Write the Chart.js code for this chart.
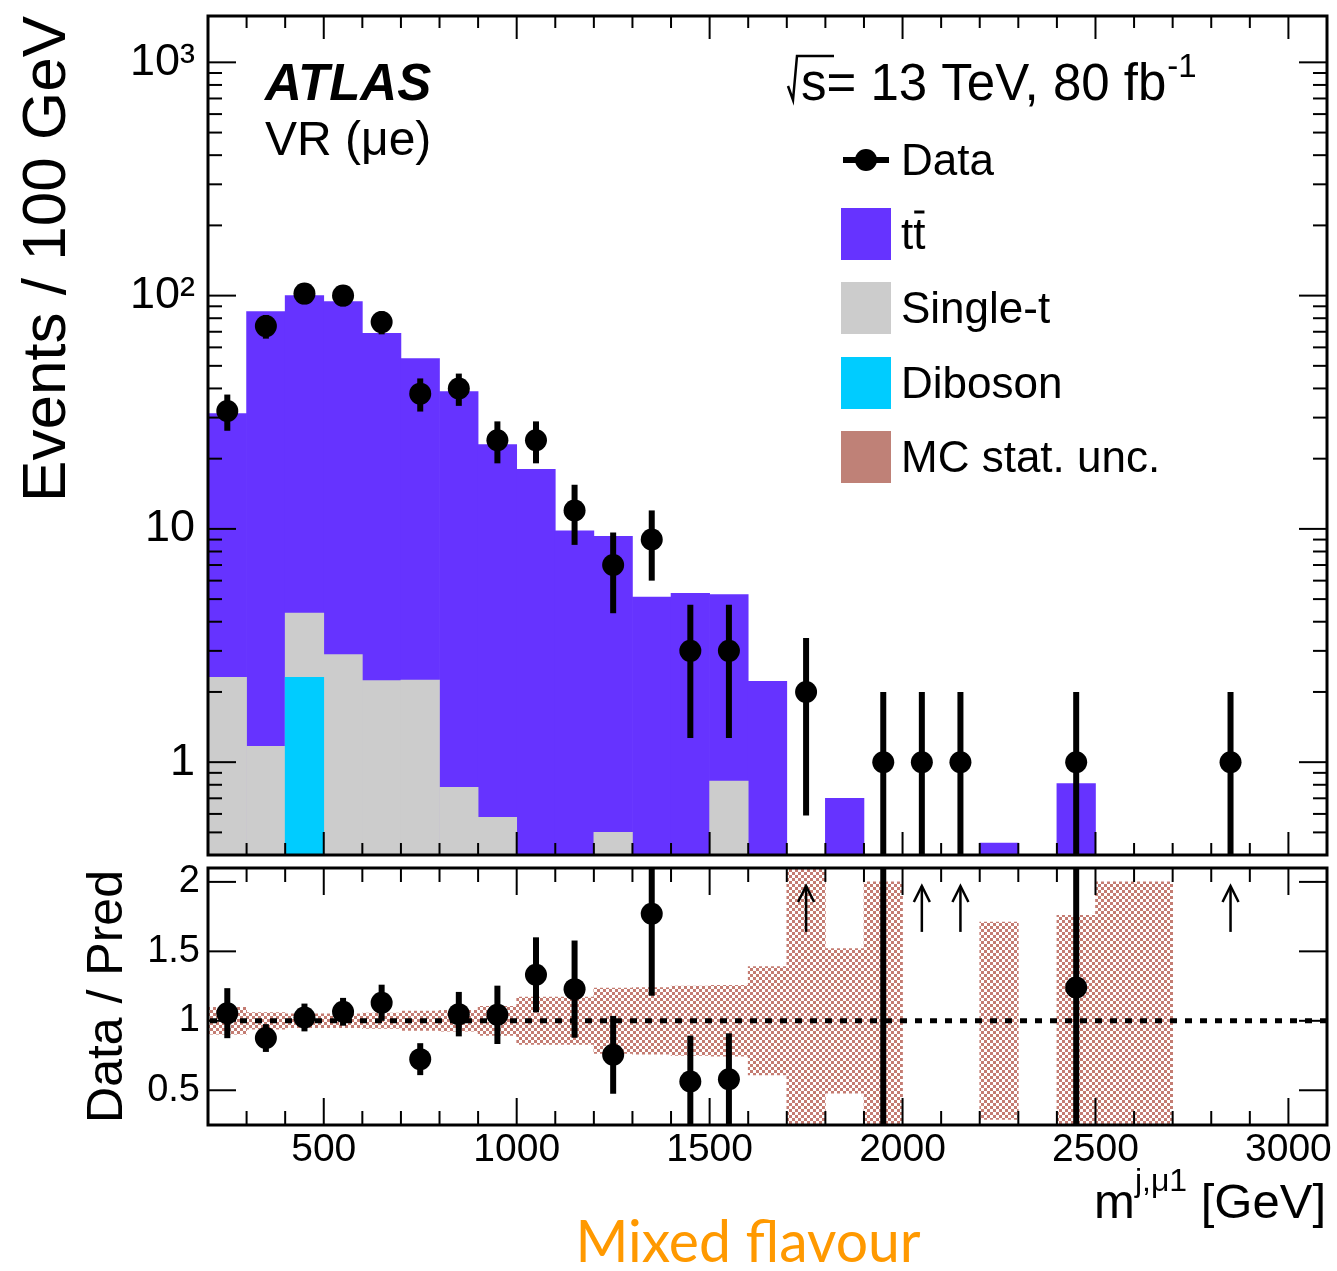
<!DOCTYPE html>
<html>
<head>
<meta charset="utf-8">
<script src="https://cdn.jsdelivr.net/npm/chart.js@4.4.1/dist/chart.umd.min.js"></script>
<style>
  html, body { margin: 0; padding: 0; background: #fff; }
  #wrap { position: relative; width: 1337px; height: 1271px; }
  .box { position: absolute; left: 0; width: 1337px; }
</style>
</head>
<body>
<div id="wrap">
  <div class="box" style="top:0;height:862px"><canvas id="mainPlot"></canvas></div>
  <div class="box" style="top:860px;height:411px"><canvas id="ratioPlot"></canvas></div>
</div>
<script>
// bin centres (100 GeV bins, 200 - 3100 GeV)
const binCenters = [250, 350, 450, 550, 650, 750, 850, 950, 1050, 1150, 1250, 1350, 1450, 1550, 1650,
                    1750, 1850, 1950, 2050, 2150, 2250, 2350, 2450, 2550, 2650, 2750, 2850, 2950, 3050];

// stacked backgrounds (events per bin)
const ttbar     = [28.9, 84.2, 95.6, 91.4, 66.7, 51.5, 38.0, 22.4, 18.0, 9.8, 8.8, 5.1, 5.3, 4.4, 2.22,
                   0, 0.7, 0, 0, 0, 0.45, 0, 0.81, 0, 0, 0, 0, 0, 0];
const singleTop = [2.31, 1.17, 2.05, 2.89, 2.24, 2.25, 0.78, 0.58, 0, 0, 0.5, 0, 0, 0.83, 0,
                   0, 0, 0, 0, 0, 0, 0, 0, 0, 0, 0, 0, 0, 0];
const diboson   = [0, 0, 2.31, 0, 0, 0, 0, 0, 0, 0, 0, 0, 0, 0, 0,
                   0, 0, 0, 0, 0, 0, 0, 0, 0, 0, 0, 0, 0, 0];

// observed data
const dataCounts = [32, 74, 102, 100, 77, 38, 40, 24, 24, 12, 7, 9, 3, 3, 0,
                    2, 0, 1, 1, 1, 0, 0, 1, 0, 0, 0, 1, 0, 0];
const dataErr    = [5.66, 8.6, 10.1, 10, 8.77, 6.16, 6.32, 4.9, 4.9, 3.46, 2.65, 3, 1.73, 1.73, 0,
                    1.41, 0, 1, 1, 1, 0, 0, 1, 0, 0, 0, 1, 0, 0];

// ratio panel
const ratio     = [1.055, 0.876, 1.024, 1.065, 1.13, 0.724, 1.048, 1.043, 1.331, 1.228, 0.755, 1.77, 0.563, 0.58, null,
                   null, null, 5, null, null, null, null, 1.24, null, null, null, null, null, null];
const ratioErr  = [0.18, 0.1, 0.1, 0.1, 0.13, 0.115, 0.16, 0.21, 0.27, 0.35, 0.28, 0.59, 0.33, 0.33, 0,
                   0, 0, 5, 0, 0, 0, 0, 1.23, 0, 0, 0, 0, 0, 0];
const mcStatErr = [0.097, 0.06, 0.05, 0.05, 0.055, 0.07, 0.075, 0.105, 0.17, 0.17, 0.235, 0.24, 0.25, 0.255, 0.39,
                   1.5, 0.52, 1.0, null, null, 0.71, null, 0.76, 1.0, 1.0, null, null, null, null];
const arrowBins = [1750, 2050, 2150, 2850];   // ratio above the plotted range

// axes
const xTickVals = [500, 1000, 1500, 2000, 2500, 3000];
const yTickVals = [1, 10, 100, 1000];
const yTickText = ['1', '10', '10\u00b2', '10\u00b3'];
const rTickVals = [0.5, 1, 1.5, 2];
const rTickText = ['0.5', '1', '1.5', '2'];

const SANS = '"Liberation Sans", Helvetica, Arial, sans-serif';
Chart.defaults.font.family = SANS;
Chart.defaults.color = '#000';

const cTT = '#6633ff';
const cST = '#cccccc';
const cVV = '#00ccff';
const cMC = '#bf8177';

function makeChecker() {
    const c = document.createElement('canvas');
    c.width = 6; c.height = 6;
    const g = c.getContext('2d');
    g.fillStyle = 'rgb(196,124,114)';
    g.fillRect(0, 0, 3, 3);
    g.fillRect(3, 3, 3, 3);
    return g.createPattern(c, 'repeat');
}

function line(ctx, x1, y1, x2, y2) {
    ctx.beginPath();
    ctx.moveTo(x1, y1);
    ctx.lineTo(x2, y2);
    ctx.stroke();
}

function clipArea(ctx, a) {
    ctx.beginPath();
    ctx.rect(a.left, a.top, a.right - a.left, a.bottom - a.top);
    ctx.clip();
}

// keep the plot frame where we put it, no label padding
function noPad(s) {
    s.paddingTop = 0; s.paddingBottom = 0;
    s.paddingLeft = 0; s.paddingRight = 0;
}

function xTicksAndFrame(chart, majLen, minLen) {
    const {ctx, chartArea: a, scales: {x}} = chart;
    ctx.strokeStyle = '#000';
    ctx.lineWidth = 2;
    for (let v = 300; v < 3100; v += 100) {
        const px = x.getPixelForValue(v);
        const len = v % 500 === 0 ? majLen : minLen;
        line(ctx, px, a.bottom, px, a.bottom - len);
        line(ctx, px, a.top, px, a.top + len);
    }
    ctx.lineWidth = 3;
    ctx.strokeRect(a.left, a.top, a.right - a.left, a.bottom - a.top);
}

const sum = (i) => ttbar[i] + singleTop[i] + diboson[i];
const stackTotal = binCenters.map((c, i) => ({x: c, y: sum(i) > 0 ? sum(i) : null}));
const stackST = binCenters.map((c, i) => ({x: c, y: singleTop[i] + diboson[i] > 0 ? singleTop[i] + diboson[i] : null}));
const stackVV = binCenters.map((c, i) => ({x: c, y: diboson[i] > 0 ? diboson[i] : null}));
const dataPts = binCenters.map((c, i) => ({x: c, y: dataCounts[i] > 0 ? dataCounts[i] : null}));

const mainDecor = {
    id: 'mainDecor',
    afterDatasetsDraw(chart) {
        const {ctx, chartArea: a, scales: {x, y}} = chart;
        ctx.save();
        clipArea(ctx, a);
        ctx.strokeStyle = '#000';
        ctx.lineWidth = 6;
        binCenters.forEach((c, i) => {
            const n = dataCounts[i];
            if (!n) return;
            const px = x.getPixelForValue(c);
            const lo = n - dataErr[i];
            const yLo = lo > 0 ? y.getPixelForValue(lo) : a.bottom + 5;
            line(ctx, px, y.getPixelForValue(n + dataErr[i]), px, yLo);
        });
        ctx.restore();
    },
    afterDraw(chart) {
        const {ctx, chartArea: a, scales: {y}} = chart;
        ctx.save();
        xTicksAndFrame(chart, 23, 12);
        // log y ticks
        ctx.lineWidth = 2;
        for (let d = 0.1; d < 2000; d *= 10) {
            for (let m = 1; m < 10; m++) {
                const v = d * m;
                if (v < y.min || v > y.max) continue;
                const py = y.getPixelForValue(v);
                const len = m === 1 ? 28 : 14;
                line(ctx, a.left, py, a.left + len, py);
                line(ctx, a.right, py, a.right - len, py);
            }
        }

        ctx.fillStyle = '#000';
        ctx.textBaseline = 'alphabetic';
        ctx.textAlign = 'left';
        ctx.font = 'italic bold 51px ' + SANS;
        ctx.fillText('ATLAS', 265, 100);
        ctx.font = '48px ' + SANS;
        ctx.fillText('VR (\u03bce)', 265, 155);

        // sqrt(s) label
        ctx.font = '51px ' + SANS;
        const main = 's= 13 TeV, 80 fb';
        ctx.fillText(main, 801, 100);
        const w = ctx.measureText(main).width;
        ctx.font = '33px ' + SANS;
        ctx.fillText('-1', 801 + w + 1, 77);
        ctx.lineWidth = 2.5;
        ctx.beginPath();
        ctx.moveTo(788, 86);
        ctx.lineTo(793, 100);
        ctx.lineTo(797, 56);
        ctx.lineTo(834, 56);
        ctx.stroke();

        // legend
        const lx = 841, lw = 50, lh = 52, tx = 901;
        ctx.font = '44px ' + SANS;
        ctx.lineWidth = 6;
        line(ctx, lx + 2, 160, lx + 48, 160);
        ctx.beginPath();
        ctx.arc(lx + 25, 160, 11, 0, Math.PI * 2);
        ctx.fill();
        ctx.fillText('Data', tx, 175);
        const rows = [[cTT, null, 234], [cST, 'Single-t', 308], [cVV, 'Diboson', 383], [cMC, 'MC stat. unc.', 457]];
        rows.forEach(([col, label, cy]) => {
            ctx.fillStyle = col;
            ctx.fillRect(lx, cy - lh / 2, lw, lh);
            ctx.fillStyle = '#000';
            if (label) {
                ctx.fillText(label, tx, cy + 15);
            } else {
                ctx.fillText('tt', tx, cy + 15);
                const wt = ctx.measureText('t').width;
                ctx.lineWidth = 3;
                line(ctx, tx + wt + 1, cy - 22, tx + 2 * wt - 1, cy - 22);
            }
        });
        ctx.restore();
    }
};

new Chart(document.getElementById('mainPlot'), {
    type: 'bar',
    data: {
        datasets: [
            {type: 'line', label: 'Data', data: dataPts, showLine: false, pointRadius: 11,
             pointBackgroundColor: '#000', pointBorderWidth: 0, borderColor: '#000'},
            {label: 'Diboson', data: stackVV, backgroundColor: cVV},
            {label: 'Single-t', data: stackST, backgroundColor: cST},
            {label: 'ttbar', data: stackTotal, backgroundColor: cTT}
        ]
    },
    options: {
        responsive: true,
        maintainAspectRatio: false,
        animation: false,
        events: [],
        layout: {autoPadding: false, padding: {left: 0, right: 10, top: 16, bottom: 7}},
        datasets: {
            bar: {grouped: false, barPercentage: 1, categoryPercentage: 1, borderWidth: 0}
        },
        plugins: {legend: {display: false}, tooltip: {enabled: false}},
        scales: {
            x: {
                type: 'linear', min: 200, max: 3100, offset: false, display: false,
                afterBuildTicks: s => { s.ticks = xTickVals.map(v => ({value: v})); }
            },
            y: {
                type: 'logarithmic', min: 0.4, max: 1580,
                grid: {display: false, drawTicks: false},
                border: {display: false},
                afterBuildTicks: s => { s.ticks = yTickVals.map(v => ({value: v})); },
                afterFit: s => { s.width = 208; noPad(s); },
                ticks: {
                    font: {size: 45}, padding: 13, color: '#000',
                    callback: v => yTickText[yTickVals.indexOf(v)] ?? ''
                },
                title: {
                    display: true, text: 'Events / 100 GeV', align: 'end',
                    font: {size: 62}, padding: {top: 11, bottom: 0}, color: '#000'
                }
            }
        }
    },
    plugins: [mainDecor]
});

const ratioPts = binCenters.map((c, i) => ({x: c, y: ratio[i]}));
const bandBars = binCenters.map((c, i) => ({x: c, y: mcStatErr[i] == null ? null : [1 - mcStatErr[i], 1 + mcStatErr[i]]}));

const ratioDecor = {
    id: 'ratioDecor',
    afterDatasetDraw(chart, args) {
        if (args.index !== 1) return;
        const {ctx, chartArea: a, scales: {y}} = chart;
        ctx.save();
        ctx.strokeStyle = '#000';
        ctx.lineWidth = 5;
        ctx.setLineDash([7, 8]);
        const py = y.getPixelForValue(1);
        line(ctx, a.left + 2, py, a.right, py);
        ctx.restore();
    },
    afterDatasetsDraw(chart) {
        const {ctx, chartArea: a, scales: {x, y}} = chart;
        ctx.save();
        clipArea(ctx, a);
        ctx.strokeStyle = '#000';
        ctx.lineWidth = 6;
        binCenters.forEach((c, i) => {
            if (ratio[i] == null || !ratioErr[i]) return;
            const px = x.getPixelForValue(c);
            line(ctx, px, y.getPixelForValue(ratio[i] + ratioErr[i]), px, y.getPixelForValue(ratio[i] - ratioErr[i]));
        });
        ctx.lineWidth = 2.5;
        arrowBins.forEach(c => {
            const px = x.getPixelForValue(c);
            const y1 = y.getPixelForValue(1.64);
            const y2 = y.getPixelForValue(1.97);
            line(ctx, px, y1, px, y2);
            ctx.beginPath();
            ctx.moveTo(px - 8, y2 + 16);
            ctx.lineTo(px, y2);
            ctx.lineTo(px + 8, y2 + 16);
            ctx.stroke();
        });
        ctx.restore();
    },
    afterDraw(chart) {
        const {ctx, chartArea: a, scales: {y}} = chart;
        ctx.save();
        xTicksAndFrame(chart, 27, 14);
        ctx.lineWidth = 2;
        rTickVals.forEach(v => {
            const py = y.getPixelForValue(v);
            line(ctx, a.left, py, a.left + 28, py);
            line(ctx, a.right, py, a.right - 28, py);
        });

        // x title with superscript
        ctx.fillStyle = '#000';
        ctx.textBaseline = 'alphabetic';
        ctx.textAlign = 'left';
        ctx.font = '49px ' + SANS;
        const wm = ctx.measureText('m').width;
        const wg = ctx.measureText(' [GeV]').width;
        ctx.font = '32px ' + SANS;
        const ws = ctx.measureText('j,\u03bc1').width;
        const x0 = 1326 - wm - ws - wg;
        ctx.font = '49px ' + SANS;
        ctx.fillText('m', x0, 358);
        ctx.font = '32px ' + SANS;
        ctx.fillText('j,\u03bc1', x0 + wm, 331);
        ctx.font = '49px ' + SANS;
        ctx.fillText(' [GeV]', x0 + wm + ws, 358);

        // channel label
        ctx.fillStyle = '#ff9900';
        ctx.font = '56px Lato, "Open Sans", sans-serif';
        const mw = ctx.measureText('Mixed flavour').width;
        const size = 56 * 345 / mw;
        ctx.font = size.toFixed(1) + 'px Lato, "Open Sans", sans-serif';
        ctx.textAlign = 'center';
        ctx.fillText('Mixed flavour', 748, 402);
        ctx.restore();
    }
};

new Chart(document.getElementById('ratioPlot'), {
    type: 'bar',
    data: {
        datasets: [
            {type: 'line', label: 'Data / Pred', data: ratioPts, showLine: false, pointRadius: 11,
             pointBackgroundColor: '#000', pointBorderWidth: 0, borderColor: '#000'},
            {label: 'MC stat. unc.', data: bandBars, backgroundColor: makeChecker()}
        ]
    },
    options: {
        responsive: true,
        maintainAspectRatio: false,
        animation: false,
        events: [],
        layout: {autoPadding: false, padding: {left: 0, right: 10, top: 8, bottom: 0}},
        datasets: {
            bar: {grouped: false, barPercentage: 1, categoryPercentage: 1, borderWidth: 0}
        },
        plugins: {legend: {display: false}, tooltip: {enabled: false}},
        scales: {
            x: {
                type: 'linear', min: 200, max: 3100, offset: false,
                grid: {display: false, drawTicks: false},
                border: {display: false},
                afterBuildTicks: s => { s.ticks = xTickVals.map(v => ({value: v})); },
                afterFit: s => { s.height = 146; noPad(s); },
                ticks: {font: {size: 39}, padding: 2, color: '#000', maxRotation: 0, autoSkip: false,
                        callback: v => String(v)}
            },
            y: {
                type: 'linear', min: 0.25, max: 2.1,
                grid: {display: false, drawTicks: false},
                border: {display: false},
                afterBuildTicks: s => { s.ticks = rTickVals.map(v => ({value: v})); },
                afterFit: s => { s.width = 208; noPad(s); },
                ticks: {
                    font: {size: 38}, padding: 8, color: '#000',
                    callback: v => rTickText[rTickVals.indexOf(v)] ?? ''
                },
                title: {
                    display: true, text: 'Data / Pred', align: 'center',
                    font: {size: 50}, padding: {top: 78, bottom: 0}, color: '#000'
                }
            }
        }
    },
    plugins: [ratioDecor]
});
</script>
</body>
</html>
